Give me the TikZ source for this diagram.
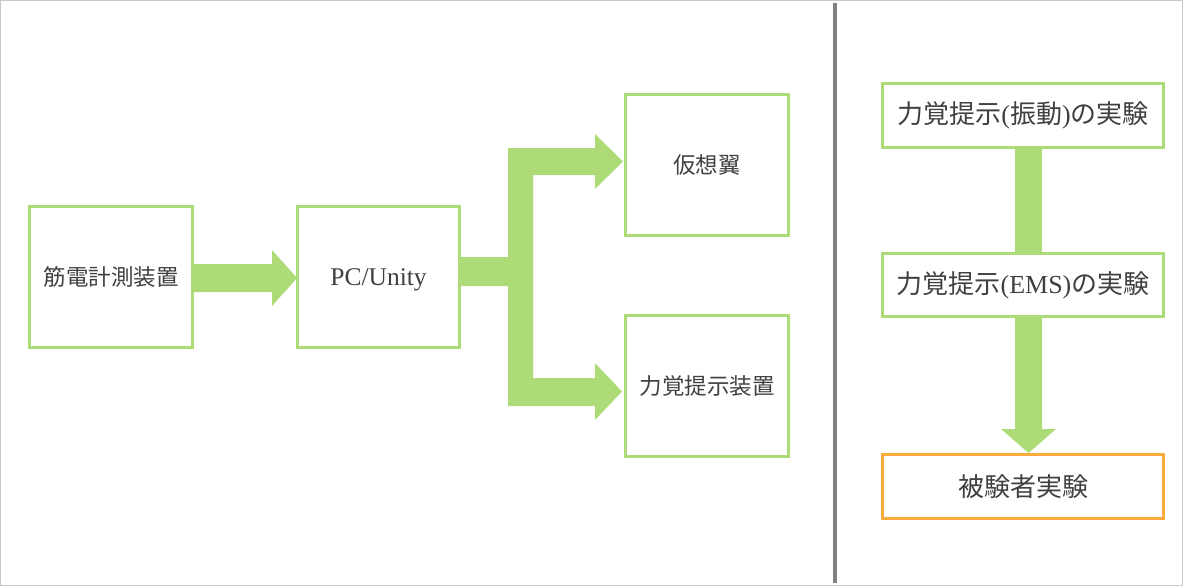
\documentclass[tikz,border=0pt]{standalone}
\usepackage{fontspec}
\setmainfont{Liberation Serif}
\newfontfamily\jpfont{Noto Sans CJK JP}
\usetikzlibrary{calc}
\definecolor{lgreen}{RGB}{173,219,119}
\definecolor{lorange}{RGB}{251,170,60}
\definecolor{txtgray}{RGB}{64,64,64}
\definecolor{divgray}{RGB}{128,128,128}
\definecolor{framegray}{RGB}{200,200,200}
\newcommand{\J}[1]{{\jpfont #1}}
\begin{document}
\begin{tikzpicture}[x=1pt,y=-1pt,
  box/.style={draw=lgreen,line width=3pt,fill=white,rectangle,inner sep=0pt,text=txtgray},
  leftbox/.style={box,minimum width=163pt,minimum height=141pt,font=\fontsize{22.5}{27}\selectfont},
  rightbox/.style={box,minimum width=281pt,minimum height=64pt,font=\fontsize{26}{31}\selectfont},
  flow/.style={fill=lgreen,draw=none}]
\useasboundingbox (0,0) rectangle (1183,586);
\draw[framegray,line width=1.2pt] (0.6,0.6) rectangle (1182.4,585.4);
\draw[divgray,line width=4pt] (835,3) coordinate (dtop) -- (835,583) coordinate (dbot);

% left boxes
\node[leftbox] (m) at (111,277) {\J{筋電計測装置}};
\node[leftbox,minimum width=162pt,text depth=0pt,font=\fontsize{25.5}{30}\selectfont] (pc) at (378.5,277) {PC/Unity};
\node[leftbox] (wing) at (707,165) {\J{仮想翼}};
\node[leftbox] (hap) at (707,386) {\J{力覚提示装置}};

% right boxes
\node[rightbox] (r1) at (1023,115.5) {\J{力覚提示}(\J{振動})\J{の実験}};
\node[rightbox,minimum height=63pt] (r2) at (1023,285) {\J{力覚提示}(EMS)\J{の実験}};
\node[rightbox,draw=lorange] (r3) at (1023,486.5) {\J{被験者実験}};

% arrow m -> pc
\fill[flow] ($(m.east)+(0,-13)$) -- ($(pc.west)+(-24,-13)$) -- ($(pc.west)+(-24,-27)$)
  -- ($(pc.west)+(1,1)$) -- ($(pc.west)+(-24,29)$) -- ($(pc.west)+(-24,15)$)
  -- ($(m.east)+(0,15)$) -- cycle;

% branching arrow pc -> wing, hap
\fill[flow] ($(pc.east)+(0,-20)$) -- (508,257) -- (508,148) -- (595,148) -- (595,134)
  -- ($(wing.west)+(-1,-3.5)$) -- (595,189) -- (595,175) -- (533,175) -- (533,378)
  -- (595,378) -- (595,363) -- ($(hap.west)+(-2,5.5)$) -- (595,420) -- (595,406)
  -- (508,406) -- (508,286) -- ($(pc.east)+(0,9)$) -- cycle;

% right arrows
\fill[flow] ($(r1.south)+(-8,0)$) rectangle ($(r2.north)+(19,0)$);
\fill[flow] ($(r2.south)+(-8,0)$) -- ($(r3.north)+(-8,-24)$) -- ($(r3.north)+(-22,-24)$)
  -- ($(r3.north)+(5.5,0)$) -- ($(r3.north)+(33,-24)$) -- ($(r3.north)+(19,-24)$)
  -- ($(r2.south)+(19,0)$) -- cycle;
\end{tikzpicture}
\end{document}
